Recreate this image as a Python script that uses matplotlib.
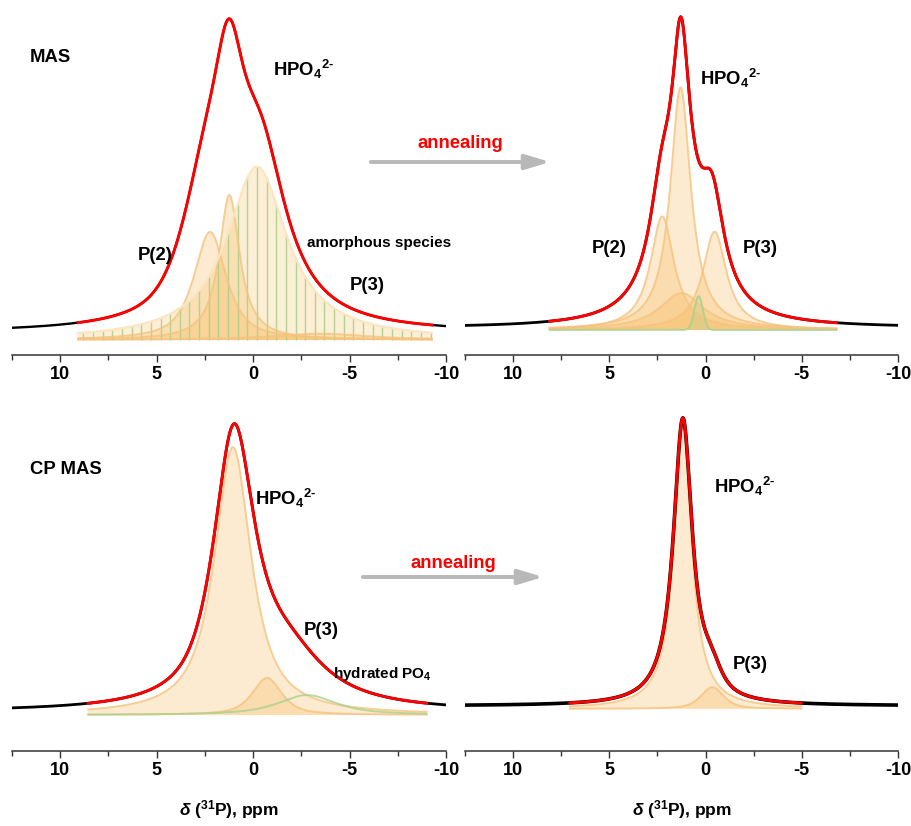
import numpy as np
import matplotlib
matplotlib.use('Agg')
import matplotlib.pyplot as plt
from matplotlib.ticker import MultipleLocator
from matplotlib.patches import FancyArrowPatch

plt.rcParams['font.family'] = ['Liberation Sans', 'DejaVu Sans']
plt.rcParams['font.weight'] = 'bold'
plt.rcParams['mathtext.fontset'] = 'custom'
plt.rcParams['mathtext.rm'] = 'Liberation Sans:bold'
plt.rcParams['mathtext.bf'] = 'Liberation Sans:bold'
plt.rcParams['mathtext.it'] = 'Liberation Sans:italic'
plt.rcParams['mathtext.default'] = 'bf'

# peak parameters: position (ppm), height, half width, lorentz fraction
# MAS, as prepared
mas_fit_pos = [1.25, -0.4, 2.5]
mas_fit_amp = [0.55, 0.5, 0.32]
mas_fit_hw = [1.0, 1.7, 1.4]
mas_fit_eta = [1.0, 1.0, 0.6]
mas_range = [9.07, -9.27]

mas_comp_pos = [2.23, 1.23, -0.2, -3.5]
mas_comp_amp = [0.34, 0.456, 0.545, 0.02]
mas_comp_hw = [1.0, 0.65, 1.9, 3.0]
mas_comp_eta = [0.8, 1.0, 1.0, 1.0]

# MAS, annealed
mas_a_fit_pos = [1.28, 1.2, 2.3, -0.35]
mas_a_fit_amp = [0.62, 0.25, 0.26, 0.3]
mas_a_fit_hw = [0.55, 1.5, 0.75, 0.75]
mas_a_fit_eta = [1.0, 1.0, 1.0, 1.0]
mas_a_range = [8.1, -6.8]

mas_a_comp_pos = [1.25, 2.25, -0.47, 1.30, 0.36]
mas_a_comp_amp = [0.12, 0.37, 0.32, 0.79, 0.11]
mas_a_comp_hw = [1.4, 0.75, 0.75, 0.65, 0.26]
mas_a_comp_eta = [1.0, 1.0, 1.0, 1.0, 0.0]

# CP MAS, as prepared
cp_fit_pos = [1.0, -1.6]
cp_fit_amp = [0.92, 0.19]
cp_fit_hw = [1.25, 2.5]
cp_fit_eta = [0.8, 1.0]
cp_range = [8.55, -9.0]

cp_comp_pos = [1.05, -0.72, -2.8]
cp_comp_amp = [0.94, 0.13, 0.07]
cp_comp_hw = [1.15, 0.9, 1.8]
cp_comp_eta = [0.9, 0.7, 0.8]

# CP MAS, annealed
cp_a_fit_pos = [1.18, -0.31]
cp_a_fit_amp = [0.99, 0.07]
cp_a_fit_hw = [0.6, 0.6]
cp_a_fit_eta = [1.0, 0.7]
cp_a_range = [7.05, -4.97]

cp_a_comp_pos = [1.18, -0.35]
cp_a_comp_amp = [0.98, 0.075]
cp_a_comp_hw = [0.56, 0.7]
cp_a_comp_eta = [1.0, 0.6]

xticks = [10, 5, 0, -5, -10]

W, H = 912, 826
orange = '#f7b24a'
orange_edge = '#f6c37f'
green = '#a9d18e'


def pv(x, pos, amp, hw, eta):
    d = ((x - pos) / hw) ** 2
    return amp * (eta / (1 + d) + (1 - eta) * np.exp(-np.log(2) * d))


def total(x, pos, amp, hw, eta):
    y = np.zeros_like(x)
    for p, a, w, e in zip(pos, amp, hw, eta):
        y += pv(x, p, a, w, e)
    return y


def rect(l, t, r, b):
    return [l / W, 1 - b / H, (r - l) / W, (b - t) / H]


def px(x, y):
    return x / W, 1 - y / H


def setup(ax, ylim):
    ax.set_xlim(12.5, -10)
    ax.set_ylim(*ylim)
    for s in ['left', 'right', 'top']:
        ax.spines[s].set_visible(False)
    ax.spines['bottom'].set_linewidth(1.1)
    ax.spines['bottom'].set_color('#333333')
    ax.set_yticks([])
    ax.set_xticks(xticks)
    ax.set_xticklabels([str(t) for t in xticks])
    ax.xaxis.set_minor_locator(MultipleLocator(2.5))
    ax.tick_params(axis='x', which='major', length=5, width=1, color='#333333',
                   labelsize=13, pad=3)
    ax.tick_params(axis='x', which='minor', length=3.5, width=1, color='#333333')
    for lab in ax.get_xticklabels():
        lab.set_fontweight('bold')


def spectrum(ax, fit, rng, lw_exp=1.7):
    xfull = np.linspace(12.5, -10, 1500)
    ax.plot(xfull, total(xfull, *fit), color='black', lw=lw_exp, zorder=5)
    xr = np.linspace(rng[0], rng[1], 1200)
    ax.plot(xr, total(xr, *fit), color='red', lw=2.1, zorder=6)


def component(ax, x, y, base, face=orange, edge=orange_edge, alpha=0.25, fill=True):
    if fill:
        ax.fill_between(x, base, base + y, facecolor=face, alpha=alpha, lw=0, zorder=2)
    ax.plot(x, base + y, color=edge, lw=1.4, alpha=0.8, zorder=3)


fig = plt.figure(figsize=(W / 100, H / 100), dpi=100)

# top left: MAS
ax1 = fig.add_axes(rect(12, 0, 446, 355))
setup(ax1, (-0.069, 1.047))
x = np.linspace(mas_range[0], mas_range[1], 1200)
b1 = -0.022
for i in range(4):
    y = pv(x, mas_comp_pos[i], mas_comp_amp[i], mas_comp_hw[i], mas_comp_eta[i])
    if i == 2:
        ax1.fill_between(x, b1, b1 + y, facecolor='#fbe2b4', alpha=0.55, lw=0, zorder=1)
        xv = np.arange(-0.2 - 18 * 0.5, mas_range[0], 0.5)
        xv = xv[(xv < mas_range[0]) & (xv > mas_range[1])]
        ax1.vlines(xv, b1, b1 + pv(xv, mas_comp_pos[i], mas_comp_amp[i], mas_comp_hw[i],
                                    mas_comp_eta[i]), color=green, lw=1.0, alpha=0.9, zorder=2)
        ax1.plot(x, b1 + y, color='#fbe6c2', lw=1.6, zorder=3)
    else:
        component(ax1, x, y, b1)
spectrum(ax1, (mas_fit_pos, mas_fit_amp, mas_fit_hw, mas_fit_eta), mas_range)

# top right: MAS annealed
ax2 = fig.add_axes(rect(465, 0, 898, 355))
setup(ax2, (-0.088, 1.068))
x = np.linspace(mas_a_range[0], mas_a_range[1], 1200)
b2 = -0.0065
for i in range(5):
    y = pv(x, mas_a_comp_pos[i], mas_a_comp_amp[i], mas_a_comp_hw[i], mas_a_comp_eta[i])
    if i == 4:
        component(ax2, x, y, b2, face=green, edge=green, alpha=0.25)
    else:
        component(ax2, x, y, b2)
spectrum(ax2, (mas_a_fit_pos, mas_a_fit_amp, mas_a_fit_hw, mas_a_fit_eta), mas_a_range, 2.0)

# bottom left: CP MAS
ax3 = fig.add_axes(rect(12, 400, 446, 751))
setup(ax3, (-0.137, 1.095))
x = np.linspace(cp_range[0], cp_range[1], 1200)
b3 = -0.0105
for i in range(3):
    y = pv(x, cp_comp_pos[i], cp_comp_amp[i], cp_comp_hw[i], cp_comp_eta[i])
    if i == 2:
        component(ax3, x, y, b3, edge=green, fill=False)
    else:
        component(ax3, x, y, b3)
spectrum(ax3, (cp_fit_pos, cp_fit_amp, cp_fit_hw, cp_fit_eta), cp_range, 2.0)

# bottom right: CP MAS annealed
ax4 = fig.add_axes(rect(465, 400, 898, 751))
setup(ax4, (-0.156, 1.059))
x = np.linspace(cp_a_range[0], cp_a_range[1], 1200)
b4 = -0.01
for i in range(2):
    y = pv(x, cp_a_comp_pos[i], cp_a_comp_amp[i], cp_a_comp_hw[i], cp_a_comp_eta[i])
    component(ax4, x, y, b4)
spectrum(ax4, (cp_a_fit_pos, cp_a_fit_amp, cp_a_fit_hw, cp_a_fit_eta), cp_a_range, 2.6)

for ax in [ax3, ax4]:
    ax.set_xlabel(r'$\mathit{\delta}$ ($^{31}$P), ppm', fontsize=12.5, fontweight='bold',
                  labelpad=14)

# labels
big = dict(fontsize=13.3, fontweight='bold', va='baseline', ha='left')
small = dict(fontsize=11, fontweight='bold', va='baseline', ha='left')
hpo = r'HPO$_4$$^{2\text{-}}$'

fig.text(*px(30, 62), 'MAS', **big)
fig.text(*px(273, 76), hpo, **big)
fig.text(*px(307, 247), 'amorphous species', **small)
fig.text(*px(138, 260), 'P(2)', **big)
fig.text(*px(350, 290), 'P(3)', **big)

fig.text(*px(700, 85), hpo, **big)
fig.text(*px(592, 253), 'P(2)', **big)
fig.text(*px(743, 253), 'P(3)', **big)

fig.text(*px(30, 474), 'CP MAS', **big)
fig.text(*px(255, 505), hpo, **big)
fig.text(*px(304, 635), 'P(3)', **big)
fig.text(*px(333, 678), r'hydrated PO$_4$', **small)

fig.text(*px(714, 493), hpo, **big)
fig.text(*px(733, 669), 'P(3)', **big)

# annealing arrows
for (x0, x1, y, ty, tx) in [(368, 553, 162, 148, 418), (360, 546, 577, 568, 411)]:
    fig.text(*px(tx, ty), 'annealing', color='red', **big)
    arr = FancyArrowPatch(px(x0, y), px(x1, y), transform=fig.transFigure,
                          arrowstyle='-|>,head_length=15,head_width=4.5',
                          mutation_scale=1, color='#b8b8b8', lw=2.8)
    fig.add_artist(arr)

fig.savefig('out.png', dpi=100)
